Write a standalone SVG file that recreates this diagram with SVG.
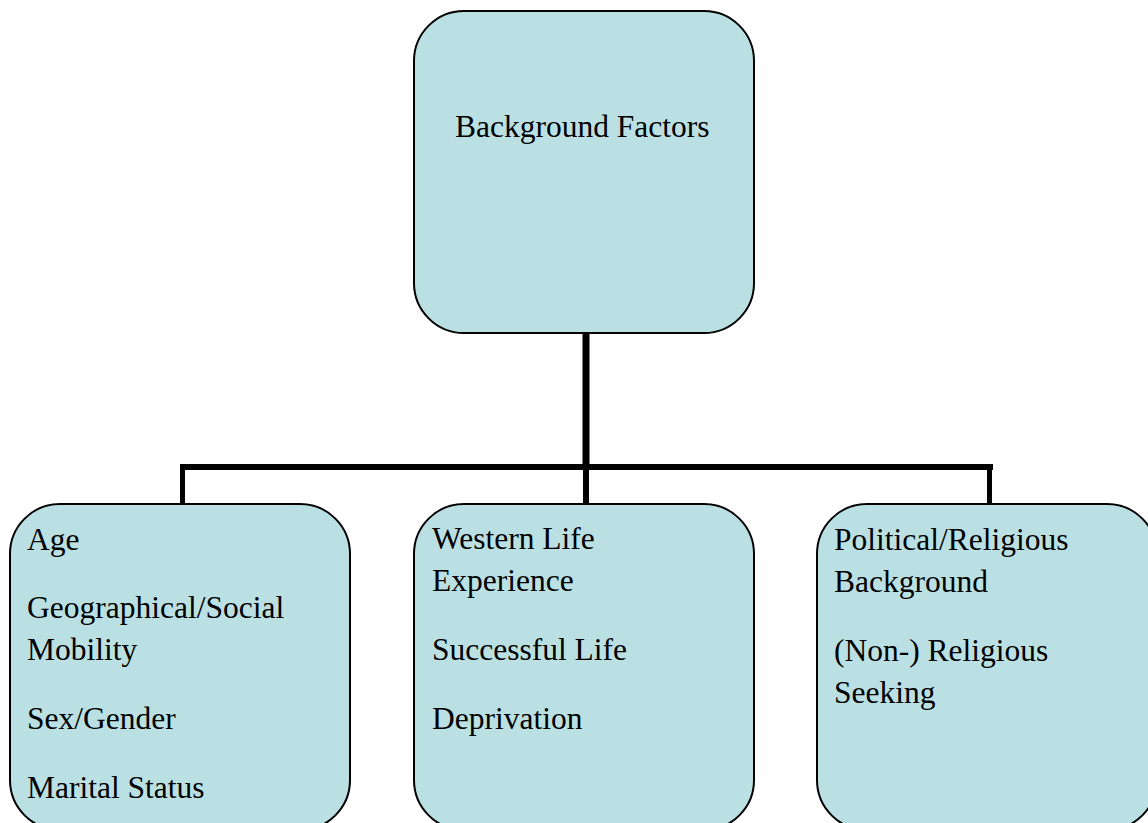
<svg xmlns="http://www.w3.org/2000/svg" width="1148" height="823" viewBox="0 0 1148 823">
<style>
.box{fill:#BBE0E3;stroke:#000;stroke-width:2}
.t{font-family:"Liberation Serif","Times New Roman",serif;font-size:31.5px;fill:#000}
.c{stroke:#000;fill:none;stroke-linecap:butt}
</style>
<rect width="1148" height="823" fill="#fff"/>
<g id="connectors">
<line class="c" x1="586" y1="333" x2="586" y2="467" stroke-width="7"/>
<line class="c" x1="180" y1="467" x2="993" y2="467" stroke-width="6"/>
<line class="c" x1="182.5" y1="467" x2="182.5" y2="504" stroke-width="5"/>
<line class="c" x1="586" y1="467" x2="586" y2="504" stroke-width="6"/>
<line class="c" x1="989.5" y1="467" x2="989.5" y2="504" stroke-width="5"/>
</g>
<g id="node-background">
<rect class="box" x="414" y="11" width="340" height="322" rx="50" ry="50"/>
<text class="t" x="455" y="137">Background Factors</text>
</g>
<g id="node-age">
<rect class="box" x="10" y="504" width="340" height="326" rx="50" ry="50"/>
<text class="t" x="27" y="550">Age</text>
<text class="t" x="27" y="618">Geographical/Social</text>
<text class="t" x="27" y="660">Mobility</text>
<text class="t" x="27" y="729">Sex/Gender</text>
<text class="t" x="27" y="798">Marital Status</text>
</g>
<g id="node-western">
<rect class="box" x="414" y="504" width="340" height="326" rx="50" ry="50"/>
<text class="t" x="432" y="549">Western Life</text>
<text class="t" x="432" y="591">Experience</text>
<text class="t" x="432" y="660">Successful Life</text>
<text class="t" x="432" y="729">Deprivation</text>
</g>
<g id="node-political">
<rect class="box" x="817" y="504" width="340" height="326" rx="50" ry="50"/>
<text class="t" x="834" y="550">Political/Religious</text>
<text class="t" x="834" y="592">Background</text>
<text class="t" x="834" y="661">(Non-) Religious</text>
<text class="t" x="834" y="703">Seeking</text>
</g>
</svg>
